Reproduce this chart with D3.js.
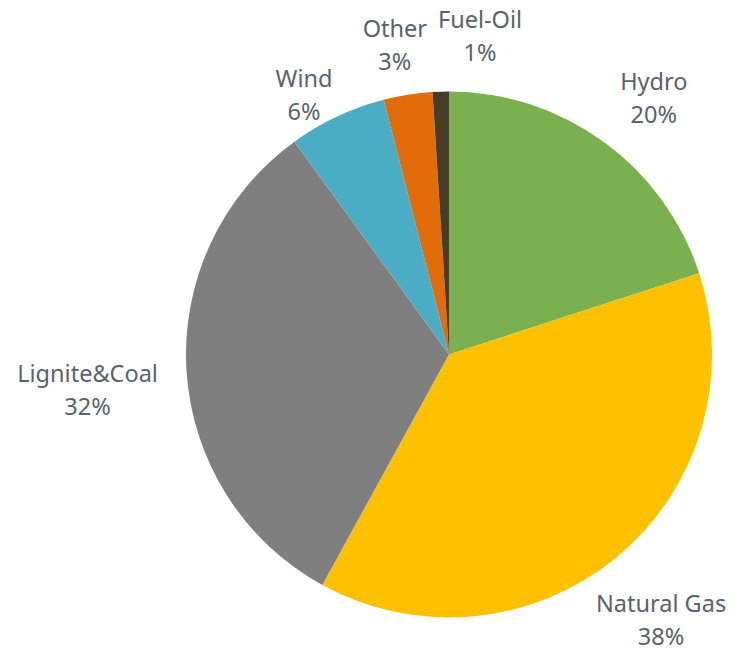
<!DOCTYPE html>
<html>
<head>
<meta charset="utf-8">
<script src="https://cdn.jsdelivr.net/npm/d3@7"></script>
<style>
  html, body { margin: 0; padding: 0; background: #ffffff; }
  svg { display: block; }
</style>
</head>
<body>
<svg id="chart" width="737" height="651"></svg>
<script>
// Electricity generation mix by source (share of total, %)
const sources = ["Hydro", "Natural Gas", "Lignite&Coal", "Wind", "Other", "Fuel-Oil"];
const shares = [20, 38, 32, 6, 3, 1];
const shareLabels = ["20%", "38%", "32%", "6%", "3%", "1%"];
const sliceColors = ["#7AB14E", "#FFC000", "#7F7F7F", "#4BACC6", "#E36C0A", "#453D28"];

// Label placement around the pie: [angle in degrees clockwise from 12 o'clock, distance from centre]
const labelPolar = [[39.5, 322], [142.2, 346], [263.2, 364], [330.0, 290], [349.8, 306], [5.7, 312]];

const width = 737, height = 651;
const cx = 449, cy = 354.5, radius = 263;

const svg = d3.select("#chart");
const g = svg.append("g").attr("transform", `translate(${cx},${cy})`);

const rows = sources.map((s, i) => ({ name: s, value: shares[i], label: shareLabels[i], color: sliceColors[i] }));

const pie = d3.pie().value(d => d.value).sort(null);
const arc = d3.arc().innerRadius(0).outerRadius(radius);

g.selectAll("path.slice")
  .data(pie(rows))
  .join("path")
  .attr("class", "slice")
  .attr("d", arc)
  .attr("fill", d => d.data.color);

const labels = g.selectAll("text.label")
  .data(pie(rows))
  .join("text")
  .attr("class", "label")
  .attr("text-anchor", "middle")
  .attr("font-family", "'Noto Sans', 'Open Sans', sans-serif")
  .attr("font-size", 23.5)
  .attr("fill", "#586270")
  .attr("transform", (d, i) => {
    const [deg, r] = labelPolar[i];
    const a = deg * Math.PI / 180;
    return `translate(${r * Math.sin(a)},${-r * Math.cos(a)})`;
  });

labels.append("tspan").attr("x", 0).attr("y", -16).text(d => d.data.name);
labels.append("tspan").attr("x", 0).attr("y", 17).text(d => d.data.label);
</script>
</body>
</html>
